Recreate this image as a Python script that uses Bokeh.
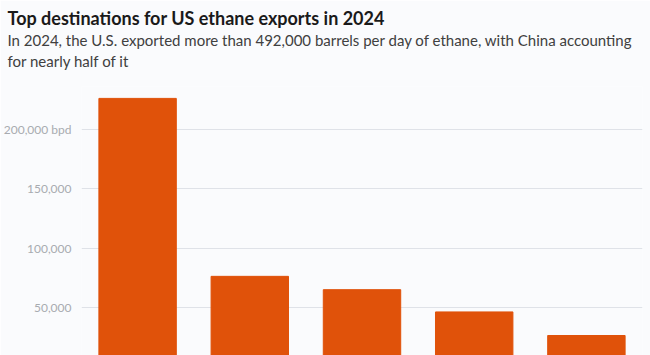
from bokeh.plotting import figure
from bokeh.models import Title, Range1d, FixedTicker
from bokeh.embed import file_html
from bokeh.resources import INLINE

countries = ["China", "Canada", "India", "Norway", "Mexico"]
exports_bpd = [226000, 76500, 65300, 46600, 26800]
tick_values = [50000, 100000, 150000, 200000]
tick_labels = ["50,000", "100,000", "150,000", "200,000 bpd"]

BG = "#fafbfd"
p = figure(width=650, height=355, x_range=countries, y_range=Range1d(10000, 236000),
           output_backend="svg", toolbar_location=None, tools="",
           min_border_left=80, min_border_right=8, min_border_bottom=0, min_border_top=10,
           background_fill_color=BG, border_fill_color=BG, outline_line_color=None)

p.vbar(x=countries, top=exports_bpd, width=0.69, color="#e0520a")

p.xaxis.visible = False
p.xgrid.grid_line_color = None
p.ygrid.grid_line_color = "#dfe2e8"
p.ygrid.grid_line_width = 1
p.yaxis.ticker = FixedTicker(ticks=tick_values)
p.yaxis.major_label_overrides = {v: l for v, l in zip(tick_values, tick_labels)}
p.yaxis.axis_line_color = None
p.yaxis.major_tick_line_color = None
p.yaxis.minor_tick_line_color = None
p.yaxis.major_label_standoff = 4
p.yaxis.major_label_text_font = "Lato"
p.yaxis.major_label_text_font_size = "12px"
p.yaxis.major_label_text_color = "#a8abb0"

spacer = Title(text=" ", text_font="Lato", text_font_size="12px", offset=-74, standoff=0)
sub2 = Title(text="for nearly half of it", text_font="Lato", text_font_size="15px",
             text_font_style="normal", text_color="#404040", offset=-74, standoff=0)
sub1 = Title(text="In 2024, the U.S. exported more than 492,000 barrels per day of ethane, with China accounting",
             text_font="Lato", text_font_size="15px", text_font_style="normal",
             text_color="#404040", offset=-74, standoff=1)
main = Title(text="Top destinations for US ethane exports in 2024", text_font="Lato",
             text_font_size="18px", text_font_style="bold", text_color="#1a1a1a",
             offset=-74, standoff=0)
top_pad = Title(text=" ", text_font="Lato", text_font_size="2px", offset=-74, standoff=0)
p.add_layout(spacer, "above")
p.add_layout(sub2, "above")
p.add_layout(sub1, "above")
p.add_layout(main, "above")
p.add_layout(top_pad, "above")

open("out.html", "w").write(file_html(p, INLINE))
